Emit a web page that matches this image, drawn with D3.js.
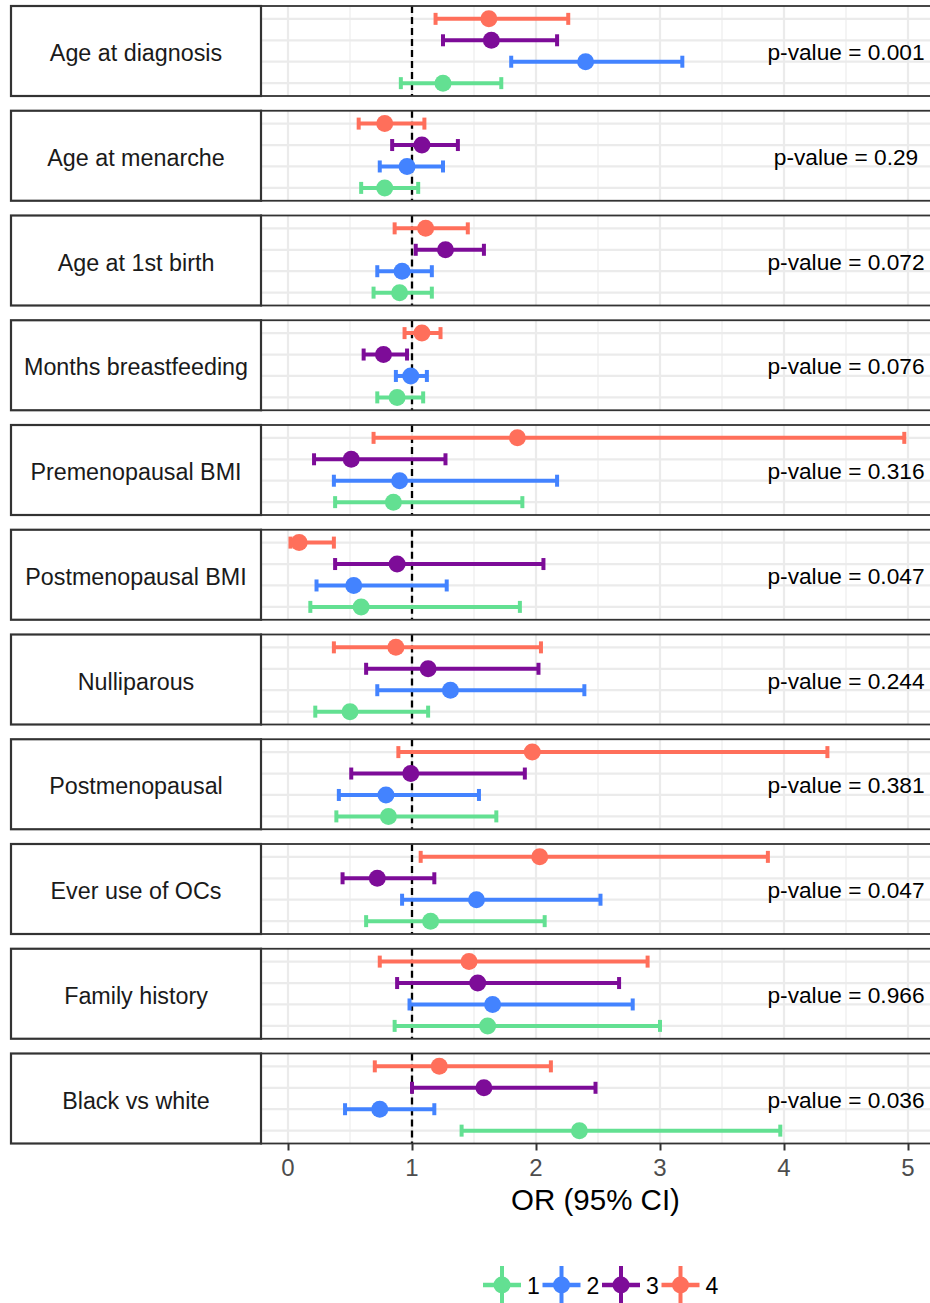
<!DOCTYPE html>
<html>
<head>
<meta charset="utf-8">
<script src="https://cdn.jsdelivr.net/npm/d3@7"></script>
<style>
  html, body { margin: 0; padding: 0; background: #ffffff; }
  svg { display: block; font-family: "Liberation Sans", Arial, sans-serif; }
</style>
</head>
<body>
<svg id="chart" width="930" height="1303"></svg>
<script>
// Risk factors (one facet each), top to bottom
const factors = [
  "Age at diagnosis", "Age at menarche", "Age at 1st birth", "Months breastfeeding",
  "Premenopausal BMI", "Postmenopausal BMI", "Nulliparous", "Postmenopausal",
  "Ever use of OCs", "Family history", "Black vs white"
];
const pValues = ["0.001", "0.29", "0.072", "0.076", "0.316", "0.047", "0.244", "0.381", "0.047", "0.966", "0.036"];

// Subtype groups
const groups = ["1", "2", "3", "4"];
const groupColors = ["#63E092", "#4383FF", "#7D0C98", "#FF6F5B"];

// Odds ratios with 95% CI, one value per factor
const or1 = [1.25, 0.78, 0.90, 0.88, 0.85, 0.59, 0.50, 0.81, 1.15, 1.61, 2.35];
const lo1 = [0.91, 0.59, 0.69, 0.72, 0.38, 0.18, 0.22, 0.39, 0.63, 0.86, 1.40];
const hi1 = [1.72, 1.05, 1.16, 1.09, 1.89, 1.87, 1.13, 1.68, 2.07, 3.00, 3.97];

const or2 = [2.40, 0.96, 0.92, 0.99, 0.90, 0.53, 1.31, 0.79, 1.52, 1.65, 0.74];
const lo2 = [1.80, 0.74, 0.72, 0.87, 0.37, 0.23, 0.72, 0.41, 0.92, 0.98, 0.46];
const hi2 = [3.18, 1.25, 1.16, 1.12, 2.17, 1.28, 2.39, 1.54, 2.52, 2.78, 1.18];

const or3 = [1.64, 1.08, 1.27, 0.77, 0.51, 0.88, 1.13, 0.99, 0.72, 1.53, 1.58];
const lo3 = [1.25, 0.84, 1.03, 0.61, 0.21, 0.38, 0.63, 0.51, 0.44, 0.88, 1.00];
const hi3 = [2.17, 1.37, 1.58, 0.96, 1.27, 2.06, 2.02, 1.91, 1.18, 2.67, 2.48];

const or4 = [1.62, 0.78, 1.11, 1.08, 1.85, 0.09, 0.87, 1.97, 2.03, 1.46, 1.22];
const lo4 = [1.19, 0.57, 0.86, 0.94, 0.69, 0.02, 0.37, 0.89, 1.07, 0.74, 0.70];
const hi4 = [2.26, 1.10, 1.45, 1.23, 4.97, 0.37, 2.04, 4.35, 3.87, 2.90, 2.12];

const xTicks = [0, 1, 2, 3, 4, 5];
const xMinor = [0.5, 1.5, 2.5, 3.5, 4.5];
const refLine = 1;
const axisTitle = "OR (95% CI)";

// Build long-form records
const series = [
  { g: "1", or: or1, lo: lo1, hi: hi1 },
  { g: "2", or: or2, lo: lo2, hi: hi2 },
  { g: "3", or: or3, lo: lo3, hi: hi3 },
  { g: "4", or: or4, lo: lo4, hi: hi4 }
];
const records = [];
series.forEach(s => factors.forEach((f, i) => {
  records.push({ factor: f, group: s.g, or: s.or[i], lo: s.lo[i], hi: s.hi[i] });
}));

// Layout
const svg = d3.select("#chart");
const stripX0 = 11, stripX1 = 261;
const panelX0 = 261, panelX1 = 945;
const panelTop = 6, panelBottom = 1143.5;
const panelH = 90;
const gap = (panelBottom - panelTop - factors.length * panelH) / (factors.length - 1);

const x = d3.scaleLinear().domain([0, 5]).range([288, 908]);
const color = d3.scaleOrdinal().domain(groups).range(groupColors);
const y = d3.scalePoint().domain(["4", "3", "2", "1"]).range([0, panelH]).padding(0.6);
const panelY = i => panelTop + i * (panelH + gap);

const gridCol = "#ebebeb";
const borderCol = "#333333";
const lineW = 4;
const capH = 6;

factors.forEach((f, i) => {
  const g = svg.append("g").attr("transform", `translate(0,${panelY(i)})`);

  // grid
  g.selectAll("line.minor").data(xMinor).join("line")
    .attr("x1", d => x(d)).attr("x2", d => x(d))
    .attr("y1", 0).attr("y2", panelH)
    .attr("stroke", gridCol).attr("stroke-width", 1.1);
  g.selectAll("line.major").data(xTicks).join("line")
    .attr("x1", d => x(d)).attr("x2", d => x(d))
    .attr("y1", 0).attr("y2", panelH)
    .attr("stroke", gridCol).attr("stroke-width", 2.2);
  g.selectAll("line.row").data(groups).join("line")
    .attr("x1", panelX0).attr("x2", panelX1)
    .attr("y1", d => y(d)).attr("y2", d => y(d))
    .attr("stroke", gridCol).attr("stroke-width", 2.2);

  // reference line at OR = 1
  g.append("line")
    .attr("x1", x(refLine)).attr("x2", x(refLine))
    .attr("y1", 0).attr("y2", panelH)
    .attr("stroke", "#000").attr("stroke-width", 2.3)
    .attr("stroke-dasharray", "7,4");

  // error bars and points
  const rows = records.filter(r => r.factor === f);
  const eb = g.selectAll("g.eb").data(rows).join("g")
    .attr("stroke", d => color(d.group)).attr("fill", d => color(d.group));
  eb.append("line")
    .attr("x1", d => x(d.lo)).attr("x2", d => x(d.hi))
    .attr("y1", d => y(d.group)).attr("y2", d => y(d.group))
    .attr("stroke-width", lineW);
  eb.append("line")
    .attr("x1", d => x(d.lo)).attr("x2", d => x(d.lo))
    .attr("y1", d => y(d.group) - capH).attr("y2", d => y(d.group) + capH)
    .attr("stroke-width", lineW);
  eb.append("line")
    .attr("x1", d => x(d.hi)).attr("x2", d => x(d.hi))
    .attr("y1", d => y(d.group) - capH).attr("y2", d => y(d.group) + capH)
    .attr("stroke-width", lineW);
  eb.append("circle")
    .attr("cx", d => x(d.or)).attr("cy", d => y(d.group))
    .attr("r", 8.5).attr("stroke", "none");

  // p-value annotation
  g.append("text")
    .attr("x", x(4.5)).attr("y", panelH / 2 + 9)
    .attr("text-anchor", "middle")
    .style("font-size", "22.7px").attr("fill", "#000")
    .text("p-value = " + pValues[i]);

  // panel border
  g.append("rect")
    .attr("x", panelX0).attr("y", 0)
    .attr("width", panelX1 - panelX0).attr("height", panelH)
    .attr("fill", "none").attr("stroke", borderCol).attr("stroke-width", 1.8);

  // strip on the left
  g.append("rect")
    .attr("x", stripX0).attr("y", 0)
    .attr("width", stripX1 - stripX0).attr("height", panelH)
    .attr("fill", "#fff").attr("stroke", borderCol).attr("stroke-width", 2.2);
  g.append("text")
    .attr("x", (stripX0 + stripX1) / 2).attr("y", panelH / 2 + 10)
    .attr("text-anchor", "middle")
    .style("font-size", "23.3px").attr("fill", "#1a1a1a")
    .text(f);
});

// bottom axis: tick marks from the axis generator, labels drawn explicitly
const axis = d3.axisBottom(x).tickValues(xTicks).tickSize(7).tickFormat("");
const ax = svg.append("g").attr("transform", `translate(0,${panelBottom})`).call(axis);
ax.select(".domain").remove();
ax.selectAll(".tick line").attr("stroke", borderCol).attr("stroke-width", 2);

svg.append("g").selectAll("text").data(xTicks).join("text")
  .attr("x", d => x(d)).attr("y", 1176)
  .attr("text-anchor", "middle")
  .style("font-size", "24px")
  .attr("fill", "#4d4d4d")
  .text(d => d3.format("d")(d));

svg.append("text")
  .attr("x", (panelX0 + 930) / 2).attr("y", 1210)
  .attr("text-anchor", "middle")
  .style("font-size", "29.5px").attr("fill", "#000")
  .text(axisTitle);

// legend
const legendY = 1285;
const legendStep = 59.5;
const legendX0 = 483;
const lg = svg.selectAll("g.legend").data(groups).join("g")
  .attr("transform", (d, i) => `translate(${legendX0 + i * legendStep},${legendY})`);
lg.append("line").attr("x1", 0).attr("x2", 38).attr("y1", 0).attr("y2", 0)
  .attr("stroke", d => color(d)).attr("stroke-width", 4.5);
lg.append("line").attr("x1", 19).attr("x2", 19).attr("y1", -19).attr("y2", 19)
  .attr("stroke", d => color(d)).attr("stroke-width", 4);
lg.append("circle").attr("cx", 19).attr("cy", 0).attr("r", 8.5)
  .attr("fill", d => color(d));
lg.append("text").attr("x", 44).attr("y", 8.5)
  .style("font-size", "23px").attr("fill", "#000")
  .text(d => d);
</script>
</body>
</html>
